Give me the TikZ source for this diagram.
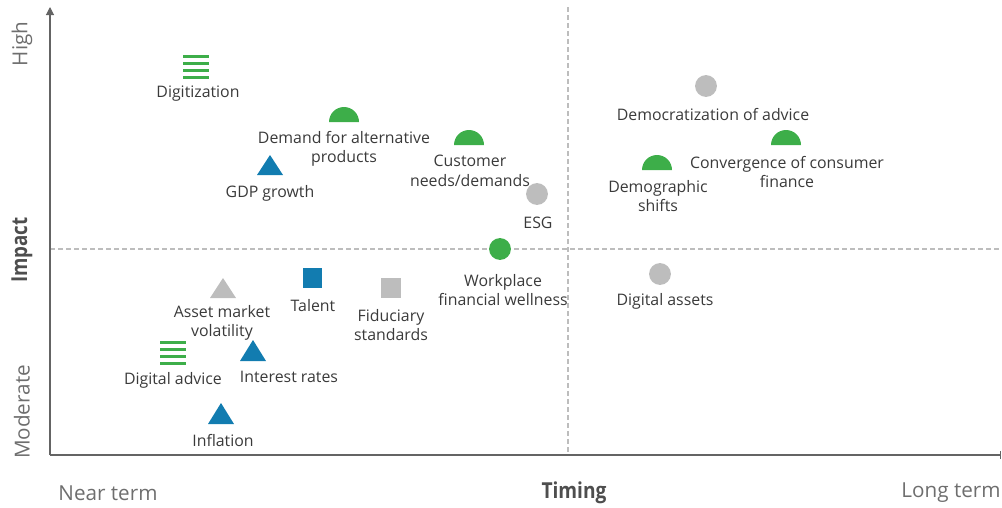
\documentclass[tikz,border=0pt]{standalone}
\usepackage{fontspec}
\usepackage{graphicx}
\setmainfont{Open Sans}
\usetikzlibrary{arrows.meta}
\definecolor{dgreen}{RGB}{61,174,73}
\definecolor{dblue}{RGB}{18,124,176}
\definecolor{dgray}{RGB}{189,189,189}
\definecolor{txt}{RGB}{58,58,58}
\definecolor{axtxt}{RGB}{110,110,110}
\definecolor{axline}{RGB}{100,100,100}
\tikzset{
  lbl/.style={text=txt, font=\fontsize{11.9}{14.6}\selectfont, align=center, inner sep=0pt},
  axlbl/.style={text=axtxt, font=\fontsize{15.5}{18}\selectfont, inner sep=0pt},
  axtitle/.style={text=txt!90, font=\fontsize{16.5}{18}\selectfont\bfseries, inner sep=0pt},
  axis/.style={draw=axline, line width=0.8pt},
  quad/.style={draw=dgray, line width=0.8pt, dash pattern=on 3.5pt off 2.5pt},
}
\newcommand{\bars}[3]{% x y(top) color
  \foreach \k in {0,1,2,3}{\fill[#3] (#1-13,#2+\k*7) rectangle (#1+13,#2+\k*7+2.8);}}
\newcommand{\halfdisc}[3]{% x ybase color
  \fill[#3] (#1-15,#2) arc[start angle=180,end angle=0,radius=11.25pt] -- cycle;}
\newcommand{\tri}[4]{% x apex-y base-y color
  \fill[#4] (#1-13,#3) -- (#1,#2) -- (#1+13,#3) -- cycle;}
\begin{document}
\begin{tikzpicture}[x=0.75pt,y=-0.75pt]
\useasboundingbox (0,0) rectangle (1002,507);
% axes
\coordinate (O) at (50,455);
\coordinate (Ytop) at (50,7);
\coordinate (Xend) at (1001,455);
\coordinate (Vtop) at (568,7);
\coordinate (Vbot) at (568,455);
\coordinate (Hl) at (50,249);
\coordinate (Hr) at (1002,249);
\draw[quad] (Vtop) -- (Vbot);
\draw[quad] (Hl) -- (Hr);
\draw[axis] (O) -- (Xend);
\draw[axis] (1000.5,451) -- (1000.5,459);
\draw[axis,-{Triangle[length=6pt,width=6pt]}] (O) -- (Ytop);
% axis labels
\node[axlbl,rotate=90] (high) at (22,44) {High};
\node[axtitle,rotate=90] (impact) at (22,250) {\scalebox{0.85}[1]{Impact}};
\node[axlbl,rotate=90] (moderate) at (22,412) {Moderate};
\node[axlbl] (near) at (108,493) {Near term};
\node[axtitle] (timing) at (574,493) {\scalebox{0.87}[1]{Timing}};
\node[axlbl] (long) at (951,493) {Long term};
% markers
\bars{196}{55}{dgreen}
\node[lbl] (digitization) at (198,94) {Digitization};
\halfdisc{344}{122}{dgreen}
\node[lbl] (demand) at (344,149) {Demand for alternative\\products};
\tri{270}{155}{175}{dblue}
\node[lbl] (gdp) at (270,193) {GDP growth};
\halfdisc{469}{145}{dgreen}
\node[lbl] (customer) at (470,171) {Customer\\needs/demands};
\fill[dgray] (537,194) circle[radius=8.2pt];
\node[lbl] (esg) at (538,223) {ESG};
\fill[dgreen] (500,249) circle[radius=8.2pt];
\node[lbl] (workplace) at (503,290) {Workplace\\financial wellness};
\fill[dgray] (706,86) circle[radius=8.2pt];
\node[lbl] (democ) at (713,115) {Democratization of advice};
\halfdisc{786}{145}{dgreen}
\node[lbl] (conv) at (787,172) {Convergence of consumer\\finance};
\halfdisc{657}{170}{dgreen}
\node[lbl] (demog) at (658,196) {Demographic\\shifts};
\fill[dgray] (660,274) circle[radius=8.2pt];
\node[lbl] (dassets) at (665,301) {Digital assets};
\tri{223}{278}{298}{dgray}
\node[lbl] (asset) at (222,323) {Asset market\\volatility};
\fill[dblue] (303,268) rectangle (322,288);
\node[lbl] (talent) at (313,306) {Talent};
\fill[dgray] (381,278) rectangle (401,298);
\node[lbl] (fiduciary) at (391,325) {Fiduciary\\standards};
\bars{173}{341}{dgreen}
\node[lbl] (dadvice) at (173,380) {Digital advice};
\tri{253}{340}{361}{dblue}
\node[lbl] (interest) at (289,377) {Interest rates};
\tri{221}{403}{424}{dblue}
\node[lbl] (inflation) at (223,440) {Inflation};
\end{tikzpicture}
\end{document}
